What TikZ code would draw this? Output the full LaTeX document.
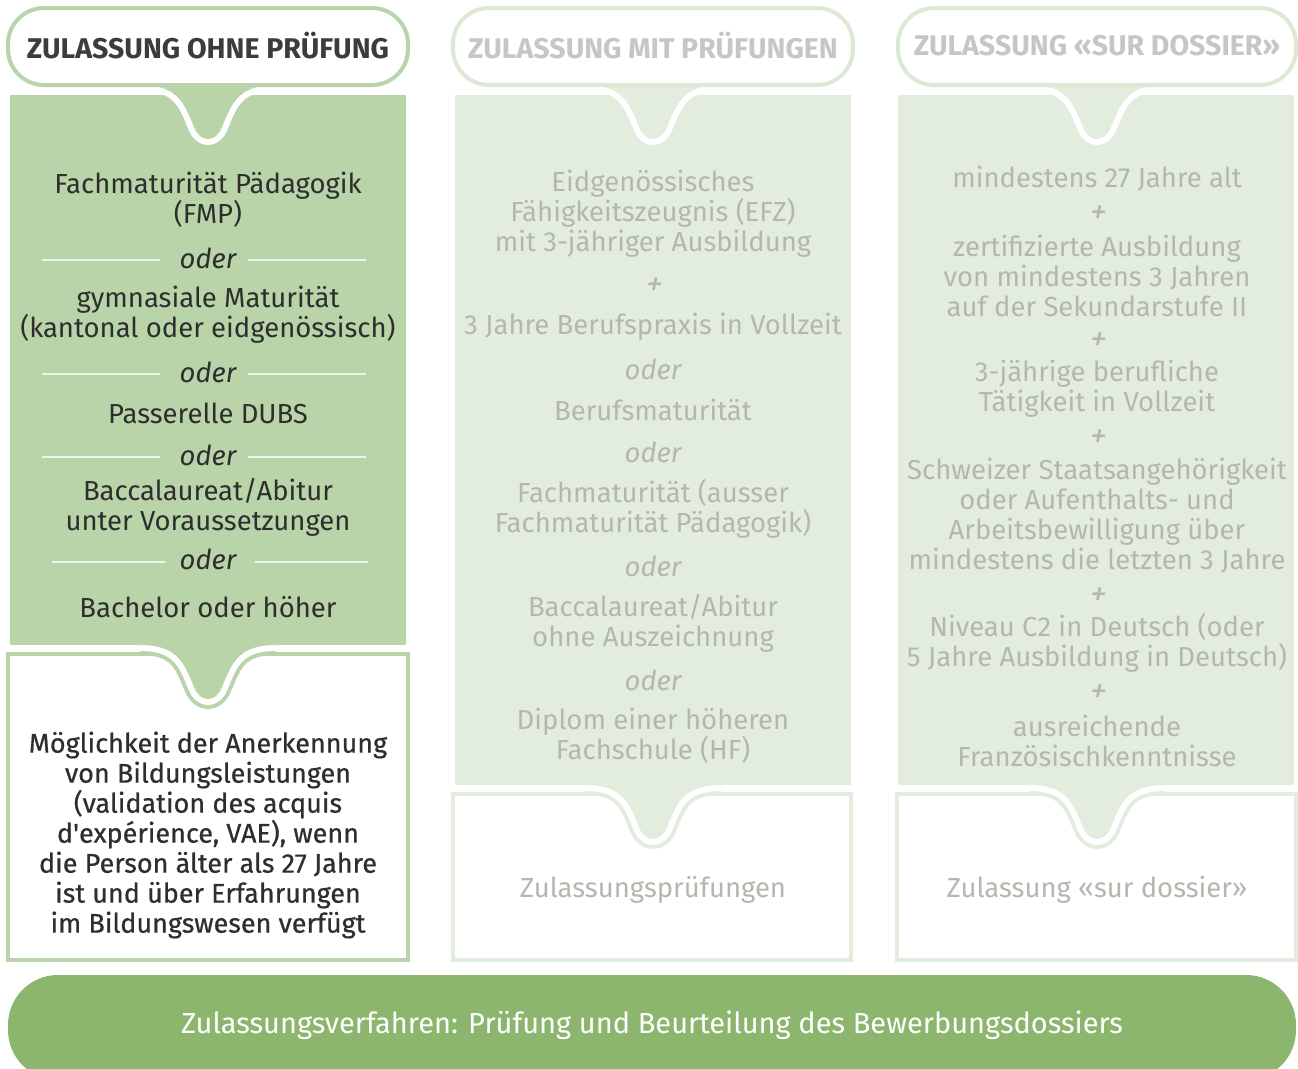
\documentclass[tikz,border=0pt]{standalone}
\usepackage{fontspec}
\setmainfont{Fira Sans}
\newfontfamily\medfont[FakeBold=0.6]{Fira Sans}
\usetikzlibrary{positioning}

\definecolor{leafgreen}{HTML}{B9D4A8}
\definecolor{palegreen}{HTML}{E3EDDE}
\definecolor{paleline}{HTML}{DCE9D4}
\definecolor{bargreen}{HTML}{8CB66E}
\definecolor{inkdark}{HTML}{2E2E2E}
\definecolor{inkhead}{HTML}{3C3C3C}
\definecolor{inkgray}{HTML}{B3B8AF}
\definecolor{headgray}{HTML}{C6C6C6}
\definecolor{sepwhite}{HTML}{EEF4E9}
\definecolor{sepfaint}{HTML}{E6EFE2}

\tikzset{
    bubble/.style={draw=#1, line width=4pt, fill=white, rounded corners=36pt},
    lowbox/.style={draw=#1, line width=4pt, fill=white},
    headtext/.style={font=\fontsize{28.5}{32}\selectfont\bfseries, text=#1},
    crit/.style={align=center, font=\fontsize{27.5}{30}\selectfont, text=#1},
    orword/.style={font=\fontsize{27.5}{30}\selectfont\itshape, text=#1},
    plus/.style={font=\fontsize{34}{36}\selectfont\addfontfeature{FakeSlant=0.2}, text=#1},
    toptail/.pic={
        \draw[white, line width=12pt] (-68,0) .. controls (-30,0) and (-24,18) .. (-14,42)
            .. controls (-8,58) and (8,58) .. (14,42) .. controls (24,18) and (30,0) .. (68,0) -- cycle;
        \fill[#1] (-68,0) .. controls (-30,0) and (-24,18) .. (-14,42)
            .. controls (-8,58) and (8,58) .. (14,42) .. controls (24,18) and (30,0) .. (68,0) -- cycle;
    },
    bottail/.pic={
        \draw[#1, line width=20pt] (-68,0) .. controls (-30,0) and (-24,18) .. (-14,42)
            .. controls (-8,58) and (8,58) .. (14,42) .. controls (24,18) and (30,0) .. (68,0) -- cycle;
        \draw[white, line width=12pt] (-68,0) .. controls (-30,0) and (-24,18) .. (-14,42)
            .. controls (-8,58) and (8,58) .. (14,42) .. controls (24,18) and (30,0) .. (68,0) -- cycle;
        \fill[#1] (-82,-12) rectangle (82,0);
        \fill[#1] (-68,0) .. controls (-30,0) and (-24,18) .. (-14,42)
            .. controls (-8,58) and (8,58) .. (14,42) .. controls (24,18) and (30,0) .. (68,0) -- cycle;
    }
}

\begin{document}
\begin{tikzpicture}[x=1pt, y=-1pt]
    \useasboundingbox (0,0) rectangle (1298,1068);

    % column 1: ohne Pruefung
    \draw[lowbox=leafgreen] (8,654) rectangle (408,960);
    \fill[leafgreen] (10,95) rectangle (406,645);
    \pic at (208,645) {bottail=leafgreen};
    \pic at (208,85) {toptail=leafgreen};
    \draw[bubble=leafgreen] (8,8) rectangle (408,85);
    \node[headtext=inkhead] (head1) at (208,46) {ZULASSUNG OHNE PRÜFUNG};
    \foreach \y/\a/\b/\c/\d in {260/42/160/248/366, 374/42/160/248/366, 457/42/160/248/366, 562/52/165/255/368}
        \draw[sepwhite, line width=1.2pt] (\a,\y) -- (\b,\y) (\c,\y) -- (\d,\y);
    \node[crit=inkdark] (fmp) at (208,200) {Fachmaturität Pädagogik\\(FMP)};
    \node[orword=inkdark] (or11) at (208,258) {oder};
    \node[crit=inkdark] (gymmat) at (208,315) {gymnasiale Maturität\\(kantonal oder eidgenössisch)};
    \node[orword=inkdark] (or12) at (208,372) {oder};
    \node[crit=inkdark] (dubs) at (208,413) {Passerelle DUBS};
    \node[orword=inkdark] (or13) at (208,455) {oder};
    \node[crit=inkdark] (bacc1) at (208,507) {Baccalaureat/Abitur\\unter Voraussetzungen};
    \node[orword=inkdark] (or14) at (208,559) {oder};
    \node[crit=inkdark] (bachelor) at (208,607) {Bachelor oder höher};
    \node[crit=inkdark, font=\fontsize{27}{30}\medfont] (vae) at (208,835)
        {Möglichkeit der Anerkennung\\von Bildungsleistungen\\(validation des acquis\\d\textquotesingle expérience, VAE), wenn\\die Person älter als 27 Jahre\\ist und über Erfahrungen\\im Bildungswesen verfügt};

    % column 2: mit Pruefungen
    \begin{scope}[shift={(445,0)}]
        \draw[lowbox=palegreen] (8,794) rectangle (406,960);
        \fill[palegreen] (10,95) rectangle (406,785);
        \pic at (208,785) {bottail=palegreen};
        \pic at (208,85) {toptail=palegreen};
        \draw[bubble=paleline] (8,8) rectangle (408,85);
        \node[headtext=headgray] (head2) at (208,46) {ZULASSUNG MIT PRÜFUNGEN};
        \foreach \y in {371, 454, 568, 682}
            \draw[sepfaint, line width=1.2pt] (45,\y) -- (155,\y) (260,\y) -- (365,\y);
        \node[crit=inkgray] (efz) at (208,214) {Eidgenössisches\\Fähigkeitszeugnis (EFZ)\\mit 3-jähriger Ausbildung};
        \node[plus=inkgray] (plus21) at (208,287) {+};
        \node[crit=inkgray] (praxis) at (208,327) {3 Jahre Berufspraxis in Vollzeit};
        \node[orword=inkgray] (or21) at (208,369) {oder};
        \node[crit=inkgray] (bms) at (208,410) {Berufsmaturität};
        \node[orword=inkgray] (or22) at (208,452) {oder};
        \node[crit=inkgray] (fms) at (208,509) {Fachmaturität (ausser\\Fachmaturität Pädagogik)};
        \node[orword=inkgray] (or23) at (208,566) {oder};
        \node[crit=inkgray] (bacc2) at (208,623) {Baccalaureat/Abitur\\ohne Auszeichnung};
        \node[orword=inkgray] (or24) at (208,680) {oder};
        \node[crit=inkgray] (hf) at (208,736) {Diplom einer höheren\\Fachschule (HF)};
        \node[crit=inkgray] (exam) at (208,890) {Zulassungsprüfungen};
    \end{scope}

    % column 3: sur dossier
    \begin{scope}[shift={(889,0)}]
        \draw[lowbox=palegreen] (8,794) rectangle (407,960);
        \fill[palegreen] (9,95) rectangle (405,785);
        \pic at (208,785) {bottail=palegreen};
        \pic at (208,85) {toptail=palegreen};
        \draw[bubble=paleline] (9,8) rectangle (407,85);
        \node[headtext=headgray] (head3) at (208,46) {ZULASSUNG «SUR DOSSIER»};
        \node[crit=inkgray] (alter) at (208,179) {mindestens 27 Jahre alt};
        \node[plus=inkgray] (plus31) at (208,215) {+};
        \node[crit=inkgray] (sek) at (208,276) {zertifizierte Ausbildung\\von mindestens 3 Jahren\\auf der Sekundarstufe II};
        \node[plus=inkgray] (plus32) at (208,342) {+};
        \node[crit=inkgray] (beruf) at (208,389) {3-jährige berufliche\\Tätigkeit in Vollzeit};
        \node[plus=inkgray] (plus33) at (208,439) {+};
        \node[crit=inkgray] (aufenthalt) at (208,516) {Schweizer Staatsangehörigkeit\\oder Aufenthalts- und\\Arbeitsbewilligung über\\mindestens die letzten 3 Jahre};
        \node[plus=inkgray] (plus34) at (208,597) {+};
        \node[crit=inkgray] (deutsch) at (208,643) {Niveau C2 in Deutsch (oder\\5 Jahre Ausbildung in Deutsch)};
        \node[plus=inkgray] (plus35) at (208,694) {+};
        \node[crit=inkgray] (franz) at (208,741) {ausreichende\\Französischkenntnisse};
        \node[crit=inkgray] (dossier) at (208,890) {Zulassung «sur dossier»};
    \end{scope}

    % bottom bar
    \fill[bargreen, rounded corners=50pt] (8,975) rectangle (1296,1080);
    \node[font=\fontsize{29}{32}\selectfont, text=white] (verfahren) at (652,1025)
        {Zulassungsverfahren: Prüfung und Beurteilung des Bewerbungsdossiers};
\end{tikzpicture}
\end{document}
